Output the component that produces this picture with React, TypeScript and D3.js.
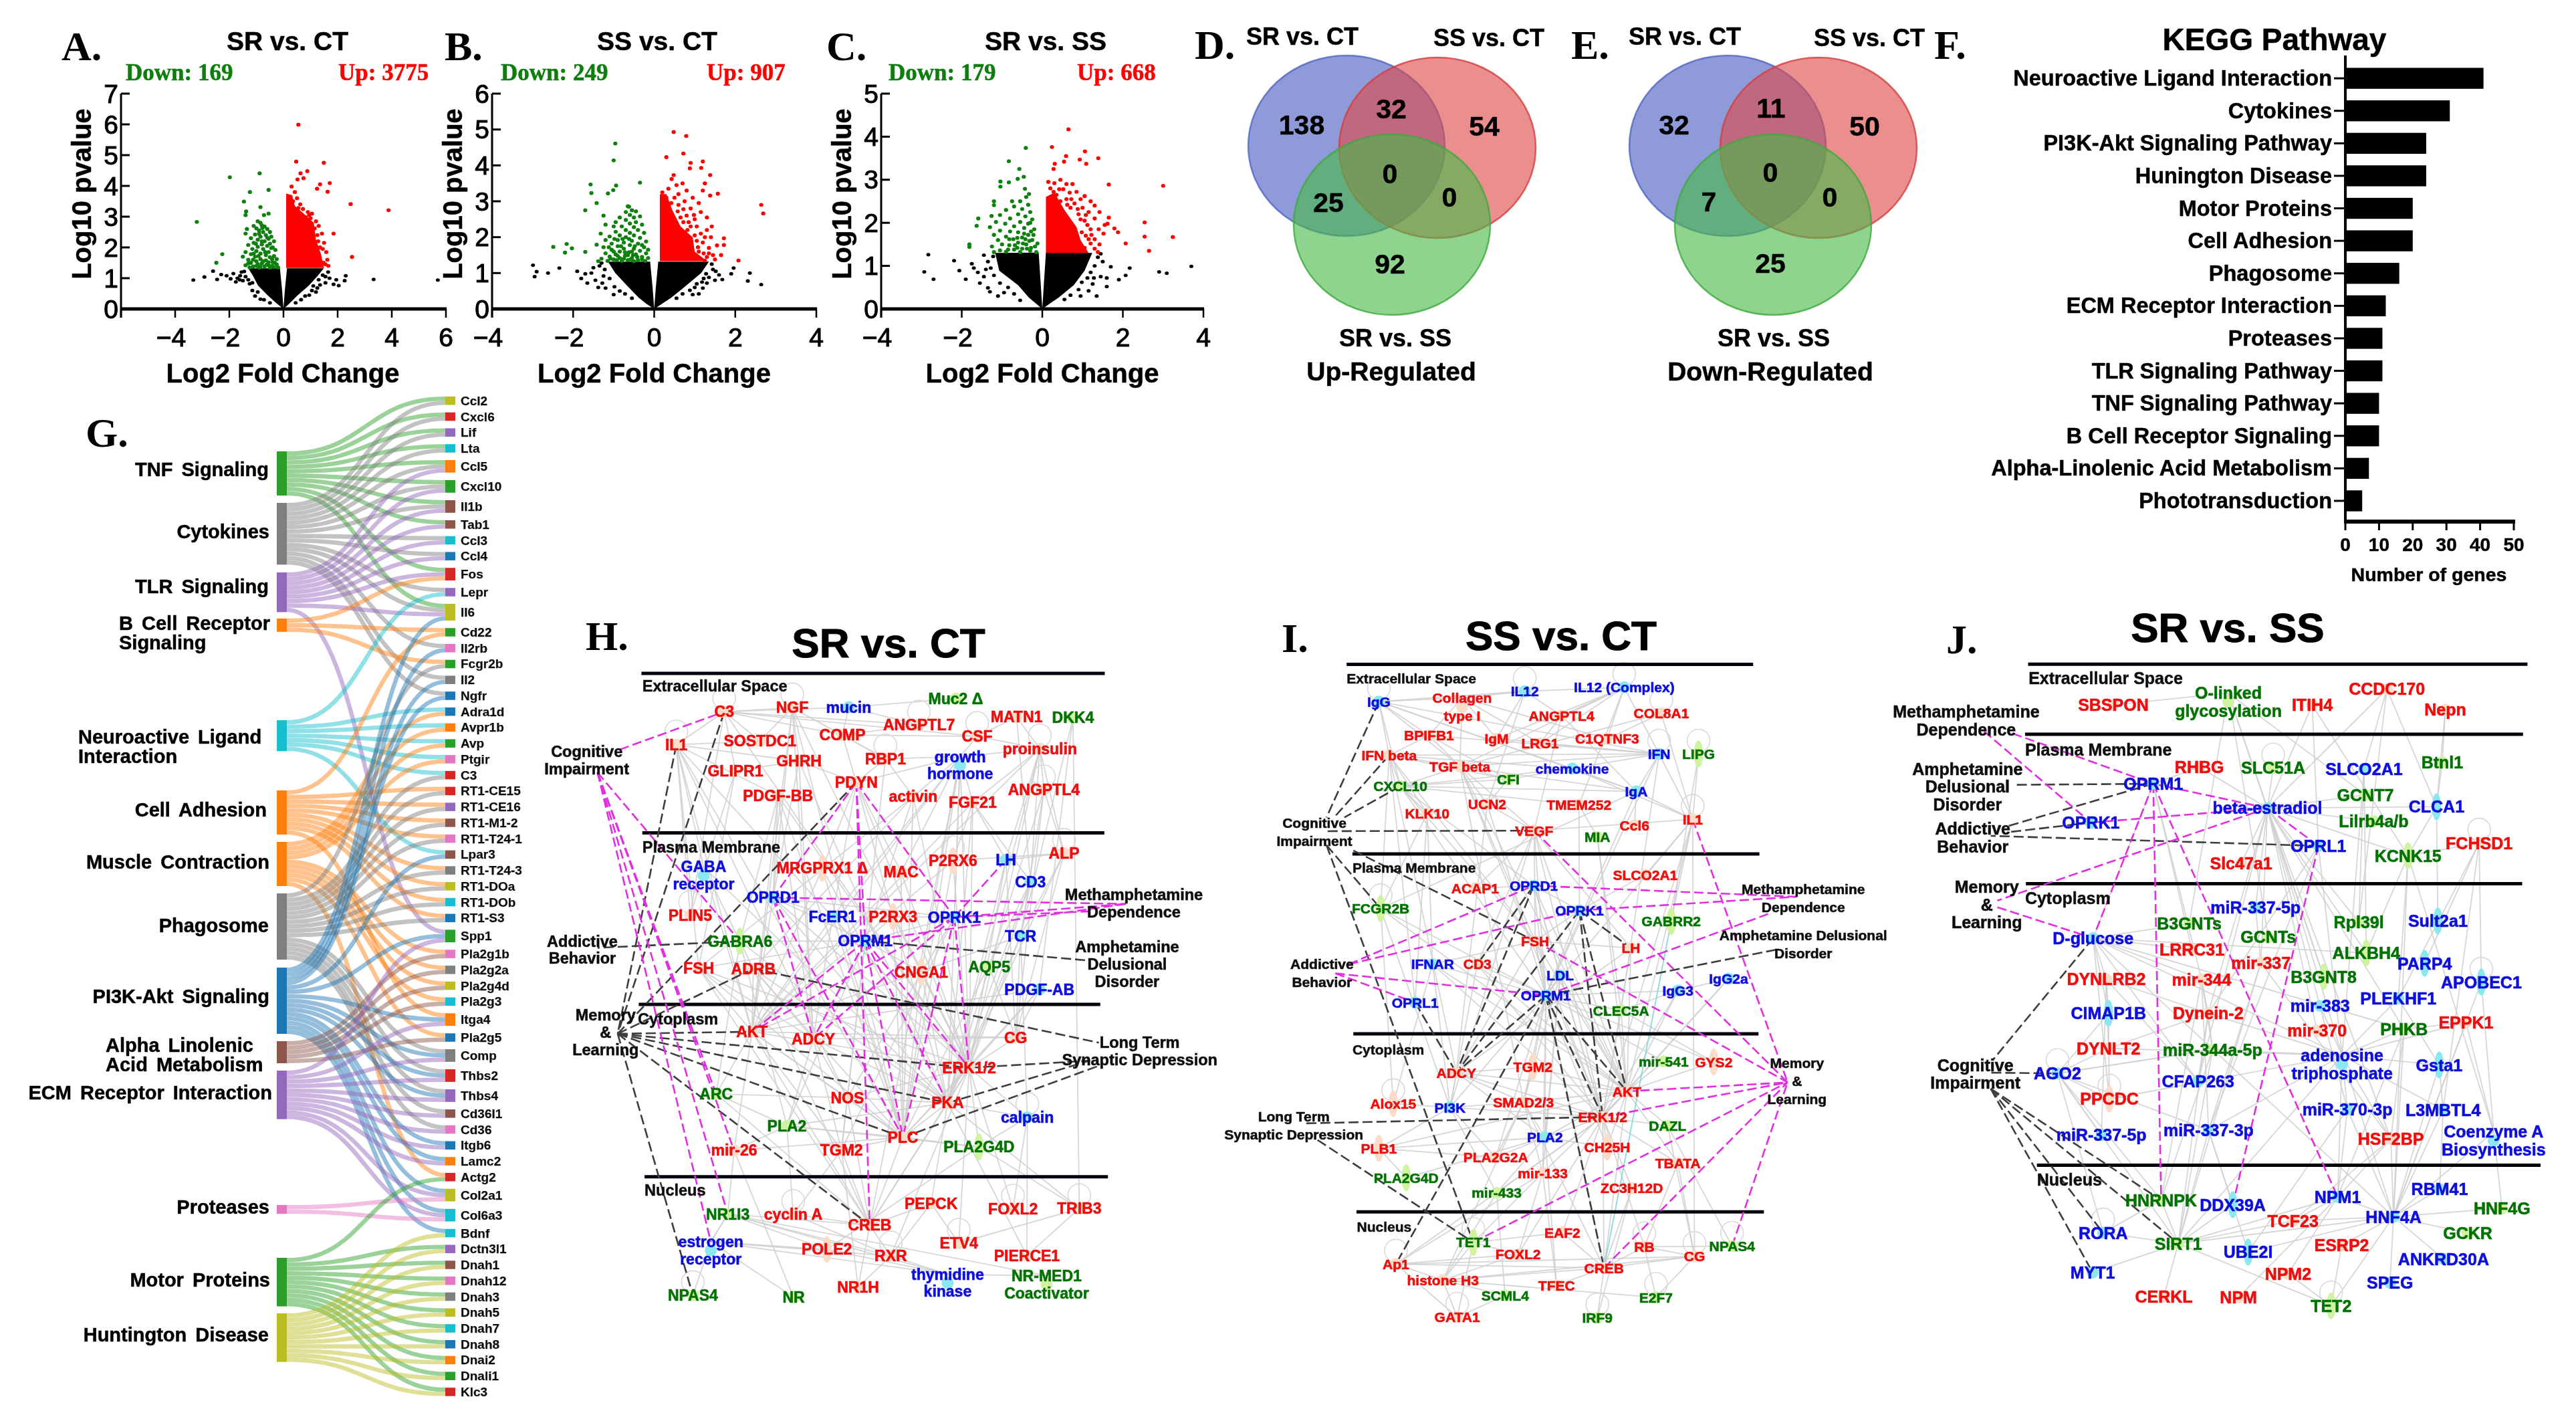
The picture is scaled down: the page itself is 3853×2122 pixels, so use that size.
import React from "react";
import * as d3 from "d3";

// ---------- Volcano data: [log2 fold change, -log10 p] ----------
const aDown: [number, number][] = [[-3.2,2.83],[-1.98,4.28],[-0.88,4.41],[-0.55,3.87],[-1.24,3.8],[-1.46,3.49],[-0.85,3.31],[-1.38,3.17],[-0.55,3.1],[-0.72,3.05],[-1.4,3.05],[-2.26,1.78],[-2.48,1.5],[-0.95,2.85],[-0.85,2.8],[-0.8,2.72],[-1.1,2.7],[-0.7,2.68],[-1.0,2.62],[-0.6,2.6],[-1.35,2.6],[-0.9,2.55],[-0.75,2.5],[-1.4,2.45],[-0.5,2.5],[-1.05,2.42],[-0.65,2.4],[-0.85,2.35],[-0.45,2.35],[-1.2,2.3],[-0.55,2.28],[-0.95,2.25],[-0.7,2.2],[-0.35,2.2],[-1.1,2.15],[-0.5,2.12],[-0.8,2.1],[-1.3,2.08],[-0.6,2.05],[-0.95,2.02],[-0.4,2.0],[-1.15,1.95],[-0.75,1.95],[-0.3,1.92],[-1.4,1.85],[-1.0,1.88],[-0.55,1.85],[-0.85,1.8],[-1.2,1.78],[-0.65,1.75],[-0.35,1.72],[-1.5,1.7],[-1.05,1.7],[-0.5,1.68],[-0.85,1.62],[-1.3,1.6],[-0.25,1.62],[-0.65,1.58],[-1.0,1.55],[-0.4,1.52],[-1.2,1.5],[-0.8,1.48],[-0.25,1.45],[-0.55,1.42],[-1.4,1.42],[-1.0,1.4],[-0.7,1.38],[-0.35,1.36],[-1.25,1.35],[-0.9,1.34],[-0.5,1.34],[-0.2,1.35],[-0.78,2.63],[-0.9,2.44],[-0.6,2.32],[-0.8,2.2],[-1.02,2.12],[-0.45,1.98],[-0.68,1.85],[-1.1,1.8],[-0.92,1.72],[-0.42,1.62],[-0.75,1.55],[-1.12,1.6],[-0.55,1.52],[-0.32,1.5],[-0.95,1.46],[-1.3,1.48],[-0.62,1.44],[-0.42,1.4],[-0.85,1.38],[-1.12,1.38]];
const aUp: [number, number][] = [[0.55,5.99],[0.47,4.79],[1.49,4.75],[0.88,4.48],[0.63,4.41],[0.52,4.21],[0.74,4.25],[1.71,4.09],[1.35,4.05],[1.24,3.91],[1.63,3.81],[2.48,3.41],[3.88,3.21],[1.85,2.45],[2.53,1.69],[0.3,3.98],[0.42,3.8],[0.5,3.6],[0.35,3.5],[0.62,3.4],[0.72,3.25],[0.9,3.15],[1.05,3.1],[1.0,2.95],[1.2,2.85],[1.3,2.7],[1.42,2.45],[1.25,2.4],[1.5,2.15],[1.35,2.0],[1.58,1.85],[1.62,1.6],[1.48,1.5],[1.66,1.4],[1.3,1.7],[0.55,3.28],[0.82,2.98],[1.15,2.62],[1.28,2.2],[1.45,1.95],[1.55,1.45],[0.95,3.05]];
const aUpCore: [number, number][] = [[0.1,1.33],[0.1,3.75],[0.32,3.7],[0.42,3.35],[0.75,3.1],[1.12,2.8],[1.2,2.25],[1.38,1.8],[1.5,1.33]];
const aCoreLeft: [number, number][] = [[0,0],[-0.28,0.2],[-0.58,0.44],[-0.94,0.76],[-1.13,1.08],[-1.3,1.32],[-0.13,1.32],[-0.05,0.6]];
const aCoreRight: [number, number][] = [[0,0],[0.25,0.2],[0.52,0.44],[0.94,0.76],[1.27,1.08],[1.49,1.32],[0.13,1.32],[0.05,0.6]];
const aNs: [number, number][] = [[-3.33,0.94],[-2.92,1.04],[-2.6,1.23],[-2.45,0.96],[-2.3,1.12],[-2.1,1.08],[-1.95,0.98],[-1.76,0.88],[-1.85,1.15],[-1.6,1.08],[-1.5,0.92],[-1.45,1.22],[-1.25,0.82],[-1.15,0.6],[-1.05,0.42],[-0.85,0.32],[1.1,0.75],[1.3,0.95],[1.45,1.1],[1.55,0.85],[1.7,1.0],[1.85,0.8],[1.2,0.55],[0.95,0.45],[2.3,1.08],[2.26,0.92],[2.04,0.76],[3.33,0.96],[5.7,0.94],[1.95,0.95],[-1.4,1.05],[-1.55,1.2],[-1.7,1.0],[-1.62,0.95],[-1.3,0.95],[-1.15,0.85],[-0.95,0.55],[-0.72,0.3],[-0.5,0.2],[0.45,0.2],[0.65,0.3],[0.8,0.42],[1.05,0.6],[1.35,0.78],[1.55,1.05],[1.65,1.2],[1.25,0.68]];

const bDown: [number, number][] = [[-0.96,4.61],[-1,4.14],[-0.35,3.52],[-1.57,3.47],[-1.55,3.23],[-0.94,3.44],[-1.01,3.31],[-1.14,3.22],[-1.42,2.95],[-1.7,2.75],[-0.65,2.86],[-2.49,1.73],[-2.16,1.81],[-2.2,1.57],[-2.03,1.69],[-1.7,1.59],[-1.42,1.79],[-1.38,1.33],[-1.25,2.6],[-1.2,2.35],[-1.32,2.1],[-0.62,2.85],[-0.55,2.75],[-0.7,2.7],[-0.45,2.72],[-0.6,2.62],[-0.85,2.55],[-0.5,2.55],[-0.35,2.58],[-0.7,2.48],[-0.95,2.42],[-0.45,2.42],[-0.6,2.38],[-0.3,2.35],[-1.0,2.3],[-0.8,2.3],[-0.5,2.28],[-0.7,2.2],[-0.4,2.2],[-0.95,2.15],[-0.6,2.12],[-0.25,2.12],[-0.85,2.05],[-0.5,2.05],[-1.1,2.02],[-0.7,2.0],[-0.35,1.98],[-1.2,1.92],[-0.9,1.92],[-0.55,1.9],[-0.2,1.88],[-0.75,1.85],[-1.05,1.82],[-0.4,1.82],[-0.6,1.78],[-0.9,1.75],[-1.25,1.72],[-0.25,1.72],[-0.75,1.68],[-0.5,1.68],[-1.05,1.65],[-0.35,1.62],[-0.85,1.6],[-0.62,1.58],[-1.2,1.55],[-0.2,1.55],[-0.95,1.52],[-0.45,1.52],[-0.72,1.48],[-1.1,1.46],[-0.3,1.45],[-0.55,1.42],[-0.85,1.42],[-0.15,1.42],[-1.3,1.4],[-1.0,1.38],[-0.65,1.36],[-0.4,1.36],[-0.22,1.34],[-0.8,1.34],[-1.15,1.34],[-0.5,1.33],[-0.78,1.95],[-0.48,1.75],[-0.98,1.95],[-0.62,1.95],[-0.3,1.78],[-0.15,1.65],[-0.82,1.75],[-1.12,1.72],[-0.55,1.6],[-0.72,1.58],[-0.42,1.45],[-0.9,1.48],[-1.0,1.6],[-0.3,1.38],[-0.65,1.5],[-0.52,1.5],[-1.08,1.4],[-0.75,1.4],[-0.58,1.38],[-0.92,1.36]];
const bUp: [number, number][] = [[0.48,4.93],[0.79,4.82],[0.72,4.33],[0.3,4.23],[0.9,4.07],[1.2,4.11],[1.16,3.93],[0.88,3.92],[1.38,3.73],[0.48,3.73],[0.43,3.62],[0.7,3.5],[1.25,3.5],[1.57,3.21],[1.38,3.16],[0.55,3.45],[0.35,3.35],[0.8,3.3],[1.2,3.3],[0.6,3.2],[0.95,3.1],[0.2,3.25],[0.3,3.1],[0.75,3.0],[1.1,2.95],[2.64,2.9],[2.69,2.66],[0.6,2.9],[0.9,2.8],[1.15,2.7],[1.3,2.55],[0.8,2.6],[1.0,2.5],[1.42,2.3],[0.65,2.55],[1.3,2.2],[0.9,2.3],[1.15,2.1],[1.4,2.0],[1.72,1.97],[1.72,1.78],[1.55,1.77],[1.0,2.05],[1.2,1.85],[1.35,1.7],[1.1,1.6],[1.45,1.5],[1.3,1.45],[1.25,1.35],[2.08,1.35],[1.65,1.5],[1.5,1.38],[0.58,2.72],[0.72,2.42],[0.82,2.2],[1.05,1.9],[1.08,1.72],[1.22,1.55],[1.35,1.55],[0.98,2.62],[0.72,2.78],[0.42,2.95],[0.5,3.1],[0.85,2.42],[1.25,2.0],[1.05,2.3]];
const bUpCore: [number, number][] = [[0.14,1.33],[0.14,3.2],[0.3,3.2],[0.45,2.75],[0.65,2.3],[0.95,2.0],[1.0,1.6],[1.3,1.33]];
const bCoreLeft: [number, number][] = [[0,0],[-0.2,0.15],[-0.38,0.31],[-0.68,0.66],[-0.96,1.0],[-1.14,1.32],[-0.1,1.32],[-0.04,0.6]];
const bCoreRight: [number, number][] = [[0,0],[0.2,0.15],[0.42,0.31],[0.8,0.66],[1.16,1.0],[1.35,1.32],[0.1,1.32],[0.04,0.6]];
const bNs: [number, number][] = [[-2.99,1.22],[-2.9,1.04],[-2.95,0.9],[-2.62,1.0],[-2.34,1.14],[-1.9,1.05],[-1.8,0.85],[-1.65,0.72],[-1.55,1.0],[-1.45,0.8],[-1.35,1.2],[-1.5,1.15],[-1.28,0.72],[-1.2,0.58],[-1.7,0.98],[-1.38,0.6],[-1.0,0.4],[2.36,1.0],[2.31,0.78],[2.64,0.68],[1.96,1.14],[1.9,0.98],[1.6,0.95],[1.68,0.82],[1.45,1.1],[1.5,0.8],[1.3,0.72],[1.2,0.58],[1.35,0.88],[1.1,0.42],[-1.22,1.1],[-1.1,0.85],[-1.25,0.92],[-0.98,0.62],[-0.85,0.5],[-0.72,0.42],[-0.55,0.3],[-1.3,1.28],[0.55,0.3],[0.7,0.42],[0.88,0.52],[1.0,0.6],[1.05,0.7],[1.22,0.85],[1.28,0.98],[1.42,1.25],[1.52,1.05],[1.18,0.75],[0.95,0.4]];

const cDown: [number, number][] = [[-0.41,3.74],[-0.83,3.43],[-0.57,3.25],[-0.46,3.07],[-1.04,2.96],[-0.83,2.94],[-0.61,3.02],[-1.04,2.84],[-0.43,2.79],[-0.33,2.67],[-1.2,2.5],[-1.2,2.41],[-1.59,2.1],[-1.63,1.93],[-1.26,2.16],[-1.81,1.44],[-1.81,1.5],[-0.4,2.6],[-0.75,2.5],[-0.55,2.5],[-0.35,2.42],[-0.7,2.38],[-0.5,2.32],[-0.9,2.3],[-0.3,2.25],[-0.6,2.2],[-1.05,2.18],[-0.42,2.15],[-0.8,2.1],[-0.25,2.08],[-1.15,2.02],[-0.55,2.02],[-0.35,1.98],[-0.92,1.98],[-0.7,1.92],[-1.3,1.9],[-0.45,1.88],[-0.2,1.85],[-1.05,1.82],[-0.8,1.8],[-0.6,1.78],[-1.2,1.72],[-0.35,1.72],[-0.9,1.68],[-0.5,1.66],[-0.72,1.62],[-1.1,1.6],[-0.25,1.6],[-1.0,1.5],[-0.6,1.54],[-0.4,1.5],[-0.82,1.48],[-1.25,1.45],[-0.18,1.45],[-0.5,1.4],[-0.7,1.38],[-1.05,1.36],[-0.3,1.35],[-0.9,1.33],[-1.2,1.32],[-0.55,1.32],[-0.15,1.32],[-0.3,2.0],[-0.28,1.8],[-0.45,1.75],[-0.62,1.65],[-0.32,1.58],[-0.42,1.62],[-0.82,1.62],[-0.68,1.48],[-0.28,1.42],[-0.48,1.52],[-0.62,1.42],[-0.22,1.72],[-0.38,1.4],[-0.85,1.38],[-0.12,1.52]];
const cUp: [number, number][] = [[0.65,4.17],[0.24,3.76],[1.06,3.66],[0.59,3.55],[1.39,3.5],[0.93,3.47],[0.54,3.42],[0.31,3.37],[1.09,3.37],[0.28,3.25],[3,2.86],[1.65,2.89],[2.54,2.01],[2.54,1.68],[3.24,1.67],[2.65,1.35],[2.07,1.52],[1.88,1.78],[1.79,1.87],[1.65,2.12],[1.62,1.98],[0.15,2.95],[0.3,2.92],[0.45,3.0],[0.6,2.9],[0.75,2.9],[0.2,2.8],[0.52,2.78],[0.68,2.7],[0.85,2.72],[0.35,2.65],[1.05,2.62],[0.95,2.55],[0.6,2.55],[0.45,2.5],[1.2,2.5],[0.8,2.45],[1.3,2.4],[1.0,2.35],[0.7,2.35],[1.15,2.25],[0.9,2.2],[1.42,2.25],[1.3,2.1],[1.05,2.05],[1.55,1.95],[1.4,1.85],[1.2,1.85],[1.52,1.75],[1.3,1.62],[1.15,1.62],[1.42,1.5],[1.3,1.4],[1.05,1.42],[1.38,1.32],[0.72,2.55],[0.88,2.32],[0.62,2.42],[1.08,2.18],[0.95,2.08],[1.12,1.95],[0.98,1.78],[1.08,1.7],[1.22,1.72],[1.2,1.52],[0.42,2.78],[0.28,2.72]];
const cUpCore: [number, number][] = [[0.09,1.3],[0.09,2.6],[0.3,2.7],[0.55,2.3],[0.85,1.9],[0.95,1.6],[1.15,1.3]];
const cCoreLeft: [number, number][] = [[0,0],[-0.15,0.12],[-0.33,0.26],[-0.6,0.55],[-1.07,0.89],[-1.17,1.3],[-0.09,1.31],[-0.04,0.6]];
const cCoreRight: [number, number][] = [[0,0],[0.18,0.12],[0.4,0.26],[0.78,0.55],[1.05,0.89],[1.24,1.3],[0.09,1.31],[0.04,0.6]];
const cNs: [number, number][] = [[-2.83,1.26],[-2.93,0.86],[-2.7,0.69],[-2.19,1.12],[-2.06,0.89],[-1.9,0.69],[-1.35,0.49],[-1.55,0.6],[-1.6,0.85],[-1.75,1.05],[-1.7,0.95],[-1.45,0.75],[-1.3,0.4],[-1.1,0.3],[1.6,0.52],[1.7,0.98],[2.17,0.95],[1.9,0.68],[2.9,0.86],[3.09,0.83],[3.7,0.99],[2.07,0.78],[1.5,1.1],[1.45,0.75],[1.25,0.58],[1.15,0.42],[1.6,0.72],[1.35,0.3],[-1.45,1.25],[-1.35,1.1],[-1.28,0.95],[-1.2,0.78],[-1.05,0.6],[-0.85,0.5],[-0.7,0.35],[-0.95,0.38],[-0.55,0.2],[-1.4,0.92],[-1.22,1.22],[0.55,0.22],[0.7,0.32],[0.9,0.45],[0.98,0.62],[1.12,0.72],[1.2,0.85],[1.3,1.0],[1.38,1.2],[1.28,0.72],[0.95,0.3],[1.45,1.28]];

// ---------- Venn data ----------
const vennSets = ["SR vs. CT", "SS vs. CT", "SR vs. SS"];
const vennUpCounts = [138, 32, 54, 0, 25, 0, 92];
const vennDownCounts = [32, 11, 50, 0, 7, 0, 25];

// ---------- KEGG bars ----------
const keggPathways = ["Neuroactive Ligand Interaction","Cytokines","PI3K-Akt Signaling Pathway","Hunington Disease","Motor Proteins","Cell Adhesion","Phagosome","ECM Receptor Interaction","Proteases","TLR Signaling Pathway","TNF Signaling Pathway","B Cell Receptor Signaling","Alpha-Linolenic Acid Metabolism","Phototransduction"];
const keggCounts = [41,31,24,24,20,20,16,12,11,11,10,10,7,5];
const keggTicks = [0,10,20,30,40,50];

// ---------- Sankey data ----------
const rtClass = ["RT1-CE15","RT1-CE16","RT1-M1-2","RT1-T24-1","RT1-T24-3","RT1-DOa","RT1-DOb","RT1-S3"];
const dyneins = ["Dctn3l1","Dnah1","Dnah12","Dnah3","Dnah5","Dnah7","Dnah8","Dnai2","Dnali1","Klc3"];
const pla2 = ["Pla2g1b","Pla2g2a","Pla2g4d","Pla2g3","Pla2g5"];
const sankeyPathways = ["TNF Signaling","Cytokines","TLR Signaling","B Cell Receptor|Signaling","Neuroactive Ligand|Interaction","Cell Adhesion","Muscle Contraction","Phagosome","PI3K-Akt Signaling","Alpha Linolenic|Acid Metabolism","ECM Receptor Interaction","Proteases","Motor Proteins","Huntington Disease"];
const sankeyGenesOf: string[][] = [
  ["Ccl2","Cxcl6","Lif","Lta","Ccl5","Cxcl10","Il1b","Tab1","Fos","Il6"],
  ["Ccl2","Cxcl6","Lif","Lta","Ccl5","Cxcl10","Il1b","Ccl3","Ccl4","Lepr","Il6","Il2rb","Il2","Ngfr"],
  ["Ccl5","Cxcl10","Il1b","Tab1","Ccl3","Ccl4","Fos","Il6","Spp1"],
  ["Fos","Cd22","Fcgr2b"],
  ["Lepr","Adra1d","Avpr1b","Avp","Ptgir","C3","Lpar3"],
  ["Cd22",...rtClass,"Itga4"],
  ["Adra1d","Avpr1b","Avp","Ptgir",...pla2,"Actg2"],
  ["Fcgr2b","C3",...rtClass,"Comp","Thbs2","Thbs4","Cd36l1","Cd36"],
  ["Il6","Il2rb","Il2","Ngfr","Lpar3","Spp1","Itga4","Comp","Thbs2","Thbs4","Itgb6","Lamc2","Col2a1","Col6a3","Bdnf"],
  pla2,
  ["Spp1","Itga4","Comp","Thbs2","Thbs4","Cd36l1","Cd36","Itgb6","Lamc2","Col2a1","Col6a3"],
  ["Col2a1","Col6a3"],
  ["Actg2",...dyneins],
  ["Bdnf",...dyneins],
];
const sankeyGenes = ["Ccl2","Cxcl6","Lif","Lta","Ccl5","Cxcl10","Il1b","Tab1","Ccl3","Ccl4","Fos","Lepr","Il6","Cd22","Il2rb","Fcgr2b","Il2","Ngfr","Adra1d","Avpr1b","Avp","Ptgir","C3","RT1-CE15","RT1-CE16","RT1-M1-2","RT1-T24-1","Lpar3","RT1-T24-3","RT1-DOa","RT1-DOb","RT1-S3","Spp1","Pla2g1b","Pla2g2a","Pla2g4d","Pla2g3","Itga4","Pla2g5","Comp","Thbs2","Thbs4","Cd36l1","Cd36","Itgb6","Lamc2","Actg2","Col2a1","Col6a3","Bdnf","Dctn3l1","Dnah1","Dnah12","Dnah3","Dnah5","Dnah7","Dnah8","Dnai2","Dnali1","Klc3"];

// ---------- Sankey styling / layout (category10 order) ----------
const C = { blue:"#1f77b4", orange:"#ff7f0e", green:"#2ca02c", red:"#d62728", purple:"#9467bd", brown:"#8c564b", pink:"#e377c2", gray:"#7f7f7f", olive:"#bcbd22", cyan:"#17becf" };
const sankeyPathwayColors = [C.green,C.gray,C.purple,C.orange,C.cyan,C.orange,C.orange,C.gray,C.blue,C.brown,C.purple,C.pink,C.green,C.olive];
const sankeyGeneColors = [C.olive,C.red,C.purple,C.cyan,C.orange,C.green,C.brown,C.brown,C.cyan,C.blue,C.red,C.purple,C.olive,C.green,C.pink,C.green,C.gray,C.blue,C.blue,C.orange,C.green,C.pink,C.red,C.red,C.purple,C.brown,C.pink,C.brown,C.gray,C.olive,C.cyan,C.blue,C.green,C.pink,C.gray,C.olive,C.cyan,C.orange,C.blue,C.gray,C.red,C.purple,C.brown,C.pink,C.blue,C.orange,C.red,C.olive,C.cyan,C.cyan,C.purple,C.brown,C.pink,C.gray,C.olive,C.cyan,C.blue,C.orange,C.green,C.red];
const sankeyLeftTops = [675,752,856,925,1077,1182,1259,1336,1447,1557,1601,1802,1881,1964];
const sankeyLabelLayout: [number, number, string][] = [[402,702,"end"],[403,795,"end"],[402,877,"end"],[178,932,"start"],[117,1102,"start"],[399,1211,"end"],[403,1289,"end"],[402,1384,"end"],[403,1490,"end"],[158,1563,"start"],[407,1634,"end"],[403,1805,"end"],[404,1914,"end"],[402,1996,"end"]];

// ---------- Network H ----------
const hRed = ["C3","NGF","MATN1","ANGPTL7","COMP","CSF","IL1","SOSTDC1","proinsulin","GHRH","RBP1","GLIPR1","PDYN","PDGF-BB","activin","FGF21","ANGPTL4","P2RX6","ALP","MRGPRX1 Δ","MAC","PLIN5","P2RX3","FSH","ADRB","CNGA1","AKT","ADCY","CG","ERK1/2","NOS","PKA","PLC","mir-26","TGM2","PEPCK","FOXL2","TRIB3","cyclin A","CREB","ETV4","POLE2","RXR","PIERCE1","NR1H"];
const hBlue = ["mucin","growth|hormone","LH","GABA|receptor","CD3","OPRD1","FcER1","OPRK1","TCR","OPRM1","PDGF-AB","calpain","estrogen|receptor","thymidine|kinase"];
const hGreen = ["Muc2 Δ","DKK4","GABRA6","AQP5","ARC","PLA2","PLA2G4D","NR1I3","NR-MED1|Coactivator","NPAS4","NR"];
const hTerms = ["Cognitive|Impairment","Addictive|Behavior","Memory|&|Learning","Methamphetamine|Dependence","Amphetamine|Delusional|Disorder","Long Term|Synaptic Depression"];
const hCompartments = ["Extracellular Space","Plasma Membrane","Cytoplasm","Nucleus"];
const hGrey: Record<string,string[]> = {
  "C3":["NGF","mucin","COMP","ANGPTL7","CSF","IL1","SOSTDC1","GLIPR1","PLIN5","ERK1/2"],
  "IL1":["SOSTDC1","GHRH","PDGF-BB","FSH","AKT","NOS","ERK1/2","PLC","GABA","PLIN5"],
  "NGF":["GHRH","RBP1","AKT","ERK1/2","PLC","ADCY","SOSTDC1","OPRD1"],
  "mucin":["Muc2 Δ","ANGPTL7","COMP"],
  "COMP":["ANGPTL7","CSF","RBP1","PDYN"],
  "growth":["PDYN","RBP1","FGF21","proinsulin","activin","AKT","ERK1/2","PKA","PLC","CREB","OPRK1","FcER1","CNGA1","CSF","MAC"],
  "proinsulin":["ANGPTL4","FGF21","LH","CD3","ERK1/2","AKT","ALP","CSF","MATN1","PKA"],
  "PDGF-BB":["AKT","ERK1/2","PLC","OPRD1","GABRA6","ADCY"],
  "GHRH":["PDYN","ADCY","OPRD1","GLIPR1","PKA"],
  "GLIPR1":["PLIN5","FSH"],
  "RBP1":["activin","OPRM1","PDYN"],
  "PDYN":["P2RX3","MAC","MRGPRX1 Δ","FcER1","ERK1/2"],
  "activin":["PLC","ERK1/2","FSH","ADRB","OPRM1"],
  "FGF21":["ERK1/2","AKT","PKA","P2RX6","CD3","LH"],
  "ANGPTL4":["ALP","TCR","AQP5","CG"],
  "ALP":["P2RX6","TCR","CG","PKA","LH"],
  "DKK4":["TCR","PDGF-AB","TRIB3"],
  "MATN1":["CSF","CD3"],
  "CD3":["ERK1/2","PKA","PLC","TCR"],
  "TCR":["ERK1/2","PKA","AKT","CG","calpain"],
  "PDGF-AB":["ERK1/2","AKT","PLC","CG"],
  "OPRD1":["OPRK1","OPRM1","FcER1","AKT","PKA","ERK1/2"],
  "OPRK1":["OPRM1","P2RX3","NOS","TGM2"],
  "OPRM1":["NOS","TGM2","PLA2","GABRA6","FSH","P2RX3","CNGA1"],
  "FcER1":["AKT","ERK1/2","PLC","ADCY"],
  "MRGPRX1 Δ":["PLC","AKT","PKA"],
  "P2RX6":["ERK1/2","PLC","AKT"],
  "P2RX3":["ERK1/2","PKA","PLC"],
  "MAC":["ERK1/2","PLC"],
  "CNGA1":["PKA","ERK1/2","PLC"],
  "GABRA6":["PKA","ARC","PLA2","ADRB"],
  "GABA":["AKT","PKA","GABRA6"],
  "FSH":["ERK1/2","AKT","ADCY","CREB","PLC"],
  "ADRB":["AKT","ADCY","PKA","PLC","CREB"],
  "AQP5":["PKA","CG"],
  "LH":["ERK1/2","PKA","CG"],
  "AKT":["CG","ERK1/2","PLC","ARC","NOS","CREB","TGM2","mir-26"],
  "ADCY":["PKA","NOS","PLA2","TGM2","CG"],
  "ERK1/2":["CG","PKA","PLC","CREB","NOS","PLA2G4D","RXR","FOXL2","calpain","ETV4"],
  "PKA":["PLC","CREB","NOS","TRIB3","PIERCE1","PEPCK","calpain","PLA2"],
  "PLC":["PLA2G4D","TGM2","NOS","PLA2","CREB","mir-26"],
  "ARC":["NOS","PLA2","CREB"],
  "NOS":["TGM2","CREB","PLC"],
  "PLA2":["PLA2G4D","mir-26","cyclin A"],
  "mir-26":["NR1I3","NR"],
  "TGM2":["CREB","cyclin A","NR1H"],
  "calpain":["PLA2G4D","PIERCE1","FOXL2"],
  "PLA2G4D":["TRIB3","POLE2"],
  "CREB":["PEPCK","NR1H","RXR","cyclin A"],
  "NR1I3":["RXR","NR-MED1","POLE2","thymidine","CREB","estrogen"],
  "estrogen":["POLE2","thymidine","RXR","NR","NR1I3"],
  "thymidine":["RXR","POLE2","NR-MED1"],
  "TRIB3":["ETV4","PIERCE1"],
  "RXR":["NR1H","PEPCK","cyclin A"],
  "NPAS4":["estrogen"],
  "ETV4":["PEPCK"],
};
const hMagenta = ["@CI2>C3","@CI>estrogen","@CI>NR1I3","@CI>ARC","@CI>mir-26","@CI>GABRA6","PDYN>OPRD1","PDYN>OPRK1","PDYN>CREB","PDYN>OPRM1","OPRD1>ADCY","OPRD1>PLC","OPRD1>@MD","OPRK1>@MD","@MD2>OPRK1","OPRM1>@MD","LH>OPRK1","OPRK1>ERK1/2","OPRK1>AKT","OPRK1>ADCY","OPRK1>PLC","OPRM1>AKT","OPRM1>ADCY","OPRM1>PLC","OPRM1>PKA","OPRM1>ERK1/2"];
const hBlack = ["IL1>@ML","C3>@ML","PDYN>@ML","ADRB>@ML","GABRA6>@AB","OPRM1>@AD","ADRB>@LT","ERK1/2>@LT2","PKA>@LT2","PLC>@LT3","@ML>AKT","@ML>ERK1/2","@ML>PKA","@ML>PLC","@ML>CREB","@ML>NPAS4"];
const hLoops = ["C3","NGF","IL1","RBP1","ANGPTL7","CSF","proinsulin","ANGPTL4","PLIN5","P2RX6","ALP","ETV4","FOXL2","TRIB3","cyclin A","RXR","NPAS4","calpain"];
const hTall = ["GABRA6","P2RX6","CNGA1","P2RX3","MRGPRX1 Δ","POLE2","PLA2G4D"];
const hLayoutTop: Record<string,[number,number]> = {"C3":[423,365],"NGF":[575,350],"mucin":[701,348],"Muc2 Δ":[940,315],"MATN1":[1076,385],"DKK4":[1202,388],"ANGPTL7":[858,415],"COMP":[687,453],"CSF":[988,458],"IL1":[316,490],"SOSTDC1":[503,476],"proinsulin":[1128,505],"GHRH":[590,552],"RBP1":[783,543],"growth":[950,535],"GLIPR1":[448,588],"PDYN":[718,632],"PDGF-BB":[543,683],"activin":[845,686],"FGF21":[978,708],"ANGPTL4":[1137,660],"P2RX6":[934,928],"LH":[1052,925],"ALP":[1182,900],"GABA":[377,952],"MRGPRX1 Δ":[642,957],"MAC":[818,972],"CD3":[1107,1008],"OPRD1":[532,1068],"PLIN5":[347,1135],"FcER1":[665,1140],"P2RX3":[800,1140],"OPRK1":[937,1142],"TCR":[1085,1213],"GABRA6":[458,1233],"OPRM1":[738,1232],"FSH":[366,1335],"ADRB":[488,1337],"CNGA1":[863,1350],"AQP5":[1015,1330],"PDGF-AB":[1127,1415],"Cognitive":[116,516],"Addictive":[106,1233],"Methamphetamine":[1338,1057],"Amphetamine":[1323,1255],"@CI":[140,595],"@CI2":[190,508],"@AB":[140,1258],"@MD":[1320,1092],"@MD2":[1240,1120],"@AD":[1230,1305]};
const hLayoutBottom: Record<string,[number,number]> = {"AKT":[485,112],"ADCY":[622,140],"CG":[1074,135],"ERK1/2":[970,253],"ARC":[405,355],"NOS":[698,370],"PKA":[922,390],"calpain":[1100,446],"PLA2":[563,480],"PLC":[822,525],"PLA2G4D":[992,562],"mir-26":[445,576],"TGM2":[685,574],"PEPCK":[885,783],"FOXL2":[1068,805],"TRIB3":[1216,803],"NR1I3":[431,825],"cyclin A":[577,826],"CREB":[748,868],"ETV4":[947,938],"POLE2":[652,963],"RXR":[795,988],"PIERCE1":[1099,987],"estrogen":[393,933],"NR1H":[722,1110],"thymidine":[922,1060],"NR-MED1":[1143,1066],"NPAS4":[353,1143],"NR":[578,1150],"Memory":[158,48],"Long Term":[1351,155],"@ML":[185,120],"@LT":[1260,155],"@LT2":[1240,225],"@LT3":[1260,245]};
const hRules: [number,number,number,number][] = [[238,1273,220,0],[240,1272,823,0],[232,1263,1472,0],[245,1280,679,1]];
const hCompartmentAt: [number,number,number][] = [[240,268,0],[240,878,0],[230,62,1],[245,733,1]];

// ---------- Network I ----------
const iRed = ["Collagen|type I","ANGPTL4","COL8A1","BPIFB1","IgM","LRG1","C1QTNF3","IFN beta","TGF beta","UCN2","TMEM252","KLK10","IL1","Ccl6","VEGF","SLCO2A1","ACAP1","FSH","LH","CD3","ADCY","TGM2","GYS2","AKT","Alox15","SMAD2/3","ERK1/2","CH25H","PLB1","PLA2G2A","TBATA","mir-133","ZC3H12D","EAF2","RB","FOXL2","CG","Ap1","CREB","histone H3","TFEC","GATA1"];
const iBlue = ["IgG","IL12","IL12 (Complex)","IFN","chemokine","IgA","OPRD1","OPRK1","IFNAR","LDL","IgG2a","IgG3","OPRM1","OPRL1","PI3K","PLA2"];
const iGreen = ["LIPG","CFI","CXCL10","MIA","FCGR2B","GABRR2","CLEC5A","mir-541","DAZL","PLA2G4D","mir-433","TET1","NPAS4","SCML4","E2F7","IRF9"];
const iTerms = ["Cognitive|Impairment","Methamphetamine|Dependence","Amphetamine Delusional|Disorder","Addictive|Behavior","Long Term|Synaptic Depression","Memory|&|Learning"];
const iGrey: Record<string,string[]> = {
  "IgG":["Collagen","IL12","BPIFB1","IFN beta","CXCL10","TGF beta","IFN","IgA","chemokine"],
  "IL12":["IL12 (Complex)","Collagen","ANGPTL4","IgM","UCN2"],
  "IL12 (Complex)":["C1QTNF3","IFN","LRG1","IgM","TMEM252","ANGPTL4","TGF beta"],
  "Collagen":["BPIFB1","IgM","TGF beta","LRG1","C1QTNF3"],
  "ANGPTL4":["VEGF","LRG1","IgA"],
  "COL8A1":["IL1","C1QTNF3","TGF beta"],
  "BPIFB1":["IFN beta","TGF beta","CFI","IFN"],
  "IFN beta":["IFN","TGF beta","CXCL10","CFI","KLK10","chemokine","FSH","OPRL1","FCGR2B","ADCY"],
  "IFN":["TGF beta","IgA","IL1","chemokine","LRG1","IgM","OPRM1","CLEC5A"],
  "LIPG":["IL1","GABRR2"],
  "TGF beta":["CFI","IgA","UCN2","CXCL10","VEGF","FSH","AKT","ERK1/2","SMAD2/3"],
  "chemokine":["IgA","IL1","CFI","CXCL10"],
  "CFI":["CXCL10","UCN2"],
  "CXCL10":["IgA","KLK10","TMEM252","OPRD1","OPRM1","FSH"],
  "IgA":["IL1","Ccl6","FCGR2B","OPRM1"],
  "IL1":["VEGF","SLCO2A1","AKT","ERK1/2","OPRM1","GABRR2","CG"],
  "UCN2":["OPRM1","ADCY","VEGF"],
  "VEGF":["OPRM1","ERK1/2","AKT","FSH","LH","PI3K","ACAP1","CD3"],
  "TMEM252":["OPRK1","MIA"],
  "MIA":["AKT","CLEC5A"],
  "KLK10":["FCGR2B","IFNAR","OPRL1"],
  "OPRD1":["OPRK1","OPRM1","ACAP1","AKT","ERK1/2","LDL"],
  "OPRK1":["OPRM1","FSH","SLCO2A1"],
  "OPRM1":["LDL","FSH","CD3","IFNAR","IgG3","CLEC5A","TGM2","SMAD2/3","PI3K","PLA2","mir-133","PLA2G2A","mir-541","CH25H","GYS2"],
  "FSH":["ERK1/2","AKT","ADCY","LH","CREB","IFNAR"],
  "LH":["ERK1/2","AKT","ADCY"],
  "CD3":["ERK1/2","AKT","PI3K"],
  "IFNAR":["PI3K","AKT","ERK1/2","Alox15"],
  "LDL":["ERK1/2","AKT","PLA2","mir-133","SMAD2/3"],
  "IgG2a":["IgG3","AKT","ERK1/2"],
  "IgG3":["AKT","ERK1/2","CLEC5A"],
  "CLEC5A":["AKT","ERK1/2","GYS2"],
  "FCGR2B":["OPRM1","PI3K","AKT","Alox15"],
  "ADCY":["TGM2","ERK1/2","AKT","SMAD2/3","PI3K","PLA2"],
  "AKT":["ERK1/2","GYS2","mir-541","SMAD2/3","PLA2","TBATA","CH25H","DAZL","CREB","TGM2","mir-133","PLB1"],
  "ERK1/2":["SMAD2/3","PLA2","CH25H","CREB","ZC3H12D","TBATA","FOXL2","mir-433","EAF2","PI3K","DAZL","Ap1","RB"],
  "SMAD2/3":["TGM2","PI3K","PLA2","PLA2G2A","histone H3","CREB","mir-133"],
  "PI3K":["PLA2G2A","PLB1","Alox15","mir-433"],
  "PLA2":["PLA2G2A","PLA2G4D","PLB1","CH25H","mir-433","TFEC"],
  "PLB1":["PLA2G2A","PLA2G4D"],
  "mir-133":["TET1","Ap1","FOXL2","TFEC"],
  "mir-433":["histone H3","SCML4"],
  "ZC3H12D":["CREB","IRF9"],
  "TBATA":["CG","RB"],
  "DAZL":["NPAS4","CG"],
  "Ap1":["CREB","histone H3","GATA1","CG","FOXL2"],
  "CREB":["RB","CG","IRF9","histone H3","TFEC","EAF2"],
  "histone H3":["TET1","GATA1","FOXL2","E2F7","CG"],
  "TET1":["GATA1","FOXL2","EAF2"],
  "RB":["CG","E2F7","NPAS4"],
  "SCML4":["histone H3","GATA1"],
  "E2F7":["CG"],
};
const iMagenta = ["OPRD1>@MD","OPRK1>@MD","OPRM1>@MD2","@AB>OPRD1","@AB>OPRK1","@AB2>OPRM1","@AB2>OPRL1","VEGF>@ML","FSH>@ML","IL1>@ML","AKT>@ML","ERK1/2>@ML","TET1>@ML","CREB>@ML","NPAS4>@ML"];
const iBlack = ["IgG>@CIa","IFN beta>@CIb","CXCL10>@CIc","VEGF>@CId","@CIe>FCGR2B","@CIf>FSH","@CIe>TET1","OPRM1>@AD","OPRD1>ADCY","OPRD1>CD3","OPRK1>ADCY","OPRK1>LH","OPRK1>AKT","OPRK1>ERK1/2","OPRM1>ADCY","OPRM1>Ap1","OPRM1>ERK1/2","OPRM1>AKT","OPRM1>CREB","OPRL1>ADCY","@LT>ERK1/2","@LT2>TET1"];
const iTeal = ["GABRR2>CREB"];
const iLoops = ["IgG","IL12","IL12 (Complex)","LIPG","IL1","COL8A1","IFN","Alox15","FCGR2B","Ap1","TET1","NPAS4","E2F7","IRF9","GATA1","CG","RB"];
const iTall = ["FCGR2B","GABRR2","PLB1","LIPG","Alox15","TET1","PLA2G4D","CH25H","TGM2","GYS2"];
const iLayoutTop: Record<string,[number,number]> = {"IgG":[362,352],"Collagen":[548,338],"IL12":[688,313],"IL12 (Complex)":[910,298],"ANGPTL4":[770,405],"COL8A1":[993,397],"BPIFB1":[474,480],"IgM":[625,492],"LRG1":[722,510],"C1QTNF3":[872,493],"IFN beta":[385,555],"IFN":[988,550],"LIPG":[1076,550],"TGF beta":[543,597],"chemokine":[794,605],"CFI":[651,646],"CXCL10":[410,672],"IgA":[937,692],"UCN2":[604,740],"TMEM252":[809,742],"KLK10":[470,775],"IL1":[1063,797],"Ccl6":[933,820],"VEGF":[709,840],"MIA":[850,864],"SLCO2A1":[957,1007],"ACAP1":[577,1058],"OPRD1":[708,1048],"FCGR2B":[366,1135],"OPRK1":[810,1142],"GABRR2":[1015,1183],"FSH":[711,1258],"LH":[925,1284],"IFNAR":[482,1345],"CD3":[582,1345],"LDL":[767,1387],"IgG2a":[1143,1400],"IgG3":[1030,1445],"OPRM1":[735,1463],"OPRL1":[443,1490],"CLEC5A":[903,1520],"Cognitive":[218,810],"Methamphetamine":[1310,1060],"Amphetamine Delusional":[1310,1236],"Addictive":[235,1345],"@CIa":[245,790],"@CIb":[262,790],"@CIc":[285,790],"@CId":[245,842],"@CIe":[245,895],"@CIf":[305,915],"@MD":[1295,1090],"@MD2":[1240,1150],"@AD":[1250,1290],"@AB":[295,1345],"@AB2":[265,1380]};
const iLayoutBottom: Record<string,[number,number]> = {"ADCY":[535,272],"TGM2":[706,250],"mir-541":[998,228],"GYS2":[1110,230],"AKT":[916,345],"Alox15":[394,393],"SMAD2/3":[685,387],"PI3K":[521,408],"ERK1/2":[862,445],"DAZL":[1007,480],"PLA2":[733,525],"CH25H":[872,563],"PLB1":[362,568],"PLA2G2A":[623,603],"TBATA":[1030,625],"mir-133":[728,664],"PLA2G4D":[423,683],"ZC3H12D":[927,723],"mir-433":[625,742],"EAF2":[772,897],"TET1":[573,935],"RB":[955,952],"NPAS4":[1151,950],"FOXL2":[673,982],"CG":[1067,990],"Ap1":[400,1020],"CREB":[865,1035],"histone H3":[505,1083],"TFEC":[759,1103],"SCML4":[644,1143],"E2F7":[981,1150],"GATA1":[537,1227],"IRF9":[850,1230],"Long Term":[172,443],"Memory":[1296,235],"@ML":[1275,310],"@LT":[200,470],"@LT2":[225,535]};
const iRules: [number,number,number,number][] = [[290,1198,211,0],[303,1212,928,0],[305,1210,120,1],[312,1222,816,1]];
const iCompartmentAt: [number,number,number][] = [[290,265,0],[303,980,0],[303,182,1],[313,873,1]];

// ---------- Network J ----------
const jRed = ["SBSPON","ITIH4","CCDC170","Nepn","RHBG","FCHSD1","Slc47a1","LRRC31","mir-337","DYNLRB2","mir-344","Dynein-2","EPPK1","mir-370","DYNLT2","PPCDC","HSF2BP","TCF23","ESRP2","NPM2","CERKL","NPM"];
const jBlue = ["SLCO2A1","OPRM1","beta-estradiol","CLCA1","OPRK1","OPRL1","miR-337-5p","Sult2a1","D-glucose","PARP4","APOBEC1","PLEKHF1","mir-383","CIMAP1B","adenosine|triphosphate","Gsta1","AGO2","CFAP263","miR-370-3p","L3MBTL4","miR-337-5p#2","miR-337-3p","Coenzyme A|Biosynthesis","RBM41","DDX39A","NPM1","HNF4A","RORA","UBE2I","ANKRD30A","MYT1","SPEG"];
const jGreen = ["O-linked|glycosylation","SLC51A","Btnl1","GCNT7","Lilrb4a/b","KCNK15","B3GNTs","Rpl39l","GCNTs","ALKBH4","B3GNT8","PHKB","miR-344a-5p","HNRNPK","HNF4G","GCKR","SIRT1","TET2"];
const jTerms = ["Methamphetamine|Dependence","Amphetamine|Delusional|Disorder","Addictive|Behavior","Memory|&|Learning","Cognitive|Impairment"];
const jGrey: Record<string,string[]> = {
  "SBSPON":["O-linked"],
  "O-linked":["beta-estradiol","B3GNTs","GCNTs","B3GNT8","GCNT7"],
  "ITIH4":["beta-estradiol","OPRL1","KCNK15"],
  "CCDC170":["beta-estradiol","SLCO2A1","CLCA1","Rpl39l"],
  "Nepn":["Btnl1","CLCA1"],
  "beta-estradiol":["SLC51A","GCNT7","CLCA1","Lilrb4a/b","KCNK15","Slc47a1","RHBG","miR-337-5p","Rpl39l","mir-337","adenosine","ALKBH4","B3GNT8","mir-370","HSF2BP","PHKB","Dynein-2","CFAP263","miR-370-3p"],
  "OPRM1":["D-glucose","RHBG","LRRC31","mir-344"],
  "SLCO2A1":["adenosine","Rpl39l","ALKBH4"],
  "CLCA1":["KCNK15","Btnl1","Sult2a1"],
  "FCHSD1":["KCNK15","PLEKHF1","APOBEC1","PARP4","L3MBTL4"],
  "KCNK15":["HNF4A","ALKBH4","PLEKHF1","Coenzyme A"],
  "OPRL1":["Dynein-2","adenosine","miR-337-3p"],
  "D-glucose":["LRRC31","DYNLRB2","CIMAP1B","B3GNTs","ALKBH4","mir-344","PPCDC","adenosine","HNF4A","PHKB","CFAP263"],
  "adenosine":["Gsta1","miR-344a-5p","mir-383","HNF4A","miR-370-3p","PHKB","HSF2BP","Dynein-2","NPM1","PPCDC","DYNLT2","EPPK1","PLEKHF1","miR-337-3p","L3MBTL4","SIRT1"],
  "DYNLRB2":["Dynein-2","CIMAP1B","DYNLT2","CFAP263","miR-337-5p#2"],
  "Dynein-2":["DYNLT2","miR-344a-5p","mir-344","CFAP263","SIRT1"],
  "mir-344":["miR-344a-5p","HNRNPK","miR-337-3p"],
  "mir-337":["miR-337-3p","miR-337-5p","SIRT1","HSF2BP"],
  "Gsta1":["HNF4A","L3MBTL4","PLEKHF1"],
  "EPPK1":["HNF4A","PHKB","Coenzyme A"],
  "APOBEC1":["HNF4A","Coenzyme A"],
  "PHKB":["HNF4A","HSF2BP","NPM1"],
  "AGO2":["miR-337-5p#2","SIRT1","DYNLT2","miR-344a-5p","PPCDC","miR-337-3p","HNRNPK","RORA"],
  "CIMAP1B":["AGO2","PPCDC"],
  "miR-344a-5p":["HNRNPK","AGO2","SIRT1"],
  "miR-370-3p":["HNF4A","NPM1","UBE2I"],
  "miR-337-3p":["SIRT1","DDX39A","UBE2I"],
  "HSF2BP":["HNF4A","NPM1","TCF23"],
  "L3MBTL4":["HNF4A","RBM41"],
  "Coenzyme A":["HNF4G","HNF4A"],
  "HNF4A":["RBM41","HNF4G","GCKR","NPM1","TCF23","ANKRD30A","SPEG","SIRT1","ESRP2","TET2","UBE2I"],
  "SIRT1":["RORA","MYT1","TCF23","CERKL","TET2","NPM1","HNRNPK","DDX39A"],
  "NPM1":["NPM2","NPM","TCF23"],
  "TET2":["NPM2","ESRP2"],
  "RORA":["HNRNPK"],
};
const jMagenta = ["@MD>OPRK1","@MD2>OPRM1","OPRM1>beta-estradiol","OPRK1>beta-estradiol","beta-estradiol>OPRL1","beta-estradiol>@ML","@ML2>D-glucose","OPRM1>D-glucose","OPRM1>HNRNPK","OPRM1>NPM1","OPRL1>DDX39A"];
const jBlack = ["OPRM1>@AD","OPRM1>@ABa","OPRK1>@ABb","OPRL1>@ABc","D-glucose>@CI","AGO2>@CI2","@CI3>HNRNPK","@CI3>SIRT1","@CI3>RORA","@CI3>MYT1"];
const jLoops = ["AGO2","PPCDC","APOBEC1","FCHSD1","SLC51A","TET2","RORA"];
const jTall = ["KCNK15","CLCA1","ALKBH4","B3GNT8","PARP4","Sult2a1","PPCDC","APOBEC1","TET2","DDX39A","UBE2I","Gsta1","CIMAP1B"];
const jLayoutTop: Record<string,[number,number]> = {"SBSPON":[519,390],"O-linked":[781,345],"ITIH4":[972,390],"CCDC170":[1142,330],"Nepn":[1275,408],"RHBG":[715,625],"SLC51A":[883,628],"SLCO2A1":[1090,632],"Btnl1":[1268,607],"OPRM1":[610,688],"GCNT7":[1093,730],"beta-estradiol":[870,780],"CLCA1":[1255,775],"OPRK1":[468,835],"Lilrb4a/b":[1112,830],"OPRL1":[986,923],"KCNK15":[1190,960],"FCHSD1":[1352,912],"Slc47a1":[810,990],"miR-337-5p":[843,1157],"B3GNTs":[692,1216],"Rpl39l":[1078,1212],"Sult2a1":[1258,1207],"GCNTs":[872,1268],"D-glucose":[473,1272],"LRRC31":[698,1315],"ALKBH4":[1095,1328],"mir-337":[855,1365],"PARP4":[1228,1367],"DYNLRB2":[503,1427],"mir-344":[720,1428],"B3GNT8":[998,1418],"APOBEC1":[1357,1438],"PLEKHF1":[1168,1500],"mir-383":[990,1528],"Methamphetamine":[184,415],"Amphetamine":[187,632],"Addictive":[199,858],"Memory":[231,1078],"@MD":[225,490],"@MD2":[290,498],"@AD":[295,692],"@ABa":[275,850],"@ABb":[285,870],"@ABc":[240,885],"@ML":[255,1130],"@ML2":[255,1155]};
const jLayoutBottom: Record<string,[number,number]> = {"CIMAP1B":[508,40],"Dynein-2":[735,40],"EPPK1":[1322,75],"mir-370":[983,107],"PHKB":[1181,102],"DYNLT2":[508,177],"miR-344a-5p":[745,182],"adenosine":[1040,205],"Gsta1":[1261,242],"AGO2":[392,275],"CFAP263":[712,305],"PPCDC":[510,375],"miR-370-3p":[1052,415],"L3MBTL4":[1270,417],"miR-337-5p#2":[492,516],"miR-337-3p":[736,497],"HSF2BP":[1151,531],"Coenzyme A":[1385,503],"RBM41":[1262,727],"HNRNPK":[628,770],"DDX39A":[791,788],"NPM1":[1030,758],"HNF4G":[1404,802],"HNF4A":[1157,835],"TCF23":[928,851],"GCKR":[1326,899],"RORA":[496,898],"SIRT1":[667,940],"ESRP2":[1039,947],"UBE2I":[826,973],"ANKRD30A":[1271,1000],"NPM2":[917,1058],"MYT1":[472,1053],"SPEG":[1149,1093],"CERKL":[634,1147],"NPM":[804,1150],"TET2":[1015,1183],"Cognitive":[205,243],"@CI":[245,222],"@CI2":[240,272],"@CI3":[240,335]};
const jRules: [number,number,number,number][] = [[325,1462,236,0],[318,1452,501,0],[320,1450,1066,0],[345,1492,634,1]];
const jCompartmentAt: [number,number,number][] = [[326,288,0],[318,558,0],[318,1120,0],[345,690,1]];

// ---------- Shared ----------
const SANS = "'Liberation Sans', Arial, sans-serif";
const SERIF = "'Liberation Serif', 'Times New Roman', serif";
const RED = "#f00a0a", GREEN = "#067206", NODE_BLUE = "#0c0cde";

const Txt = ({ x, y, s, size, fill = "#000", anchor = "middle", weight = 700, family = SANS, rotate, ws, sw = 0.5 }: any) => (
  <text x={x} y={y} fontFamily={family} fontWeight={weight} fontSize={size} fill={fill} textAnchor={anchor}
    stroke={fill} strokeWidth={sw} dominantBaseline="central" wordSpacing={ws} transform={rotate ? `rotate(${rotate} ${x} ${y})` : undefined}>{s}</text>
);
const Letter = ({ x, y, s }: any) => (
  <text x={x} y={y} fontFamily={SERIF} fontWeight={700} fontSize={62} fill="#000">{s}</text>
);

function Volcano({ title, titleX, letter, letterX, down, up, downX, upX, dn, upPts, upCore, coreL, coreR, ns, xDom, xRange, yMax, xTicks, tickLabels }: any) {
  const x = d3.scaleLinear().domain(xDom).range(xRange);
  const y = d3.scaleLinear().domain([0, yMax]).range([462, 140]);
  const poly = d3.line<[number, number]>().x(d => x(d[0])).y(d => y(d[1])).curve(d3.curveLinearClosed);
  const left = x(xDom[0]);
  return (
    <g>
      <Letter x={letterX} y={90} s={letter} />
      <Txt x={titleX} y={61} s={title} size={39} />
      <Txt x={downX} y={108} s={down} size={35} fill="#0a7d0a" family={SERIF} anchor="start" />
      <Txt x={upX} y={108} s={up} size={35} fill="#f00" family={SERIF} anchor="start" />
      <path d={poly(coreL) || ""} fill="#000" />
      <path d={poly(coreR) || ""} fill="#000" />
      <path d={poly(upCore) || ""} fill="#f00" />
      {ns.map((d: number[], i: number) => <ellipse key={i} cx={x(d[0])} cy={y(d[1])} rx={3} ry={2.6} fill="#000" />)}
      {dn.map((d: number[], i: number) => <ellipse key={i} cx={x(d[0])} cy={y(d[1])} rx={3.1} ry={2.9} fill="#0a800a" />)}
      {upPts.map((d: number[], i: number) => <ellipse key={i} cx={x(d[0])} cy={y(d[1])} rx={3.1} ry={2.9} fill="#f00" />)}
      <line x1={left} x2={left} y1={y(yMax)} y2={475} stroke="#000" strokeWidth={3} />
      <line x1={left - 1} x2={xRange[1] + 1} y1={462} y2={462} stroke="#000" strokeWidth={5} />
      {d3.range(0, yMax + 1).map(t => (
        <g key={t}>
          <line x1={left} x2={left + 13} y1={y(t)} y2={y(t)} stroke="#000" strokeWidth={3} />
          <Txt x={left - 4} y={y(t)} s={String(t)} size={39} anchor="end" weight={400} sw={1} />
        </g>
      ))}
      {xTicks.map((t: number) => <line key={t} x1={x(t)} x2={x(t)} y1={462} y2={475} stroke="#000" strokeWidth={2.5} />)}
      {tickLabels.map((t: number) => <Txt key={t} x={x(t) - (t < 0 ? 6 : 0)} y={504} s={t < 0 ? `\u2212${-t}` : String(t)} size={39} weight={400} sw={1} />)}
      <Txt x={(xRange[0] + xRange[1]) / 2 + (xDom[0] === -6 ? -1 : 0)} y={558} s="Log2 Fold Change" size={40} />
      <Txt x={left - 59} y={290} s="Log10 pvalue" size={40} rotate={-90} />
    </g>
  );
}

function Venn({ labels, counts, second, bottom }: any) {
  const dx = second ? 570 : 0;
  const cx = d3.scaleLinear().domain([0, 1]).range([2014 + dx, 2150 + dx]);
  const circles = [{ x: cx(0), y: 218, f: "rgba(66,88,190,0.6)", s: "rgba(66,88,190,.7)" }, { x: cx(1), y: 221, f: "rgba(222,72,72,0.62)", s: "rgba(215,60,60,.8)" }, { x: cx(0.5), y: 336, f: "rgba(72,185,72,0.62)", s: "rgba(60,170,60,.8)" }];
  const numberAt = second ? [[2504, 187], [2649, 162], [2789, 189], [2648, 258], [2556, 302], [2737, 295], [2648, 394]] : [[1947, 187], [2081, 163], [2220, 189], [2079, 260], [1987, 303], [2168, 295], [2079, 395]];
  return (
    <g>
      {circles.map((c, i) => <ellipse key={i} cx={c.x} cy={c.y} rx={147} ry={135} fill={c.f} stroke={c.s} strokeWidth={2.5} />)}
      {counts.map((n: number, i: number) => <Txt key={i} x={numberAt[i][0]} y={numberAt[i][1]} s={String(n)} size={41} />)}
      <Txt x={second ? 2520 : 1948} y={54} s={labels[0]} size={36} />
      <Txt x={second ? 2796 : 2227} y={56} s={labels[1]} size={36} />
      <Txt x={second ? 2653 : 2087} y={505} s={labels[2]} size={36} />
      <Txt x={second ? 2648 : 2081} y={555} s={bottom} size={39} />
    </g>
  );
}

function Kegg() {
  const x = d3.scaleLinear().domain([0, 50]).range([3508, 3760]);
  const y = d3.scaleBand().domain(keggPathways).range([92.7, 773.4]).paddingInner(0.355).paddingOuter(0.18);
  return (
    <g>
      <Letter x={2893} y={88} s="F." />
      <Txt x={3402} y={59} s="KEGG Pathway" size={46} />
      {keggPathways.map((p, i) => {
        const cy = (y(p) as number) + y.bandwidth() / 2;
        return (
          <g key={p}>
            <rect x={x(0)} y={y(p)} width={x(keggCounts[i]) - x(0)} height={y.bandwidth()} fill="#000" />
            <line x1={3491} x2={3508} y1={cy} y2={cy} stroke="#000" strokeWidth={3} />
            <Txt x={3488} y={cy} s={p} size={32.5} anchor="end" />
          </g>
        );
      })}
      <line x1={3508} x2={3508} y1={83} y2={782} stroke="#000" strokeWidth={4} />
      <line x1={3506} x2={3762} y1={780} y2={780} stroke="#000" strokeWidth={6} />
      {keggTicks.map(t => (
        <g key={t}>
          <line x1={x(t)} x2={x(t)} y1={780} y2={793} stroke="#000" strokeWidth={3} />
          <Txt x={x(t)} y={814} s={String(t)} size={28} />
        </g>
      ))}
      <Txt x={3633} y={859} s="Number of genes" size={28.5} />
    </g>
  );
}

function Sankey() {
  const leftUnit = 6.6, rightUnit = 6.27, gap = 11.2, top = 593;
  const gCount = sankeyGenes.map(g => sankeyGenesOf.filter(l => l.includes(g)).length);
  let yy = top;
  const gTop = sankeyGenes.map((_, i) => { const t = yy; yy += gCount[i] * rightUnit + gap; return t; });
  const used = sankeyGenes.map(() => 0);
  const link = d3.linkHorizontal<any, [number, number]>().source((d: any) => d.s).target((d: any) => d.t);
  const links = sankeyGenesOf.flatMap((genes, pi) => genes.map((g, k) => {
    const gi = sankeyGenes.indexOf(g);
    const ty = gTop[gi] + (used[gi]++ + 0.5) * rightUnit;
    return { k: `${pi}-${g}`, c: sankeyPathwayColors[pi], d: link({ s: [429, sankeyLeftTops[pi] + (k + 0.5) * leftUnit], t: [666, ty] }) };
  }));
  return (
    <g>
      <Letter x={128} y={668} s="G." />
      {links.map(l => <path key={l.k} d={l.d || ""} fill="none" stroke={l.c} strokeOpacity={0.48} strokeWidth={6.4} />)}
      {sankeyPathways.map((p, i) => {
        const lines = p.split("|");
        const [lx, ly, a] = sankeyLabelLayout[i];
        return (
          <g key={p}>
            <rect x={414} y={sankeyLeftTops[i]} width={15} height={sankeyGenesOf[i].length * leftUnit} fill={sankeyPathwayColors[i]} />
            {lines.map((t, j) => <Txt key={t} x={lx} y={ly + j * 28.5} s={t} size={29} anchor={a} ws={5} />)}
          </g>
        );
      })}
      {sankeyGenes.map((g, i) => (
        <g key={g}>
          <rect x={666} y={gTop[i]} width={15} height={gCount[i] * rightUnit} fill={sankeyGeneColors[i]} />
          <Txt x={689} y={gTop[i] + gCount[i] * rightUnit / 2} s={g} size={19} anchor="start" fill="#111" sw={0.25} />
        </g>
      ))}
    </g>
  );
}

function Network({ title, titleAt, titleSize = 62, letter, letterAt, red, blue, green, terms, compartments, compartmentAt, compartmentSize, grey, magenta, black, teal = [], loops, tall, layoutTop, layoutBottom, rules, xRange, yTop, yBottom, labelSize, termSize, step }: any) {
  const sx = d3.scaleLinear().domain([0, 1568]).range(xRange);
  const syT = d3.scaleLinear().domain([0, 1568]).range(yTop);
  const syB = d3.scaleLinear().domain([0, 1568]).range(yBottom);
  const pt = (k: string): [number, number] | null => {
    if (layoutTop[k]) return [sx(layoutTop[k][0]), syT(layoutTop[k][1])];
    if (layoutBottom[k]) return [sx(layoutBottom[k][0]), syB(layoutBottom[k][1])];
    return null;
  };
  const seg = (s: string) => { const [a, b] = s.split(">"); return { a: pt(a), b: pt(b), k: s }; };
  const greyPairs: { a: any; b: any; k: string }[] = Object.entries(grey as Record<string, string[]>).flatMap(([a, l]) => l.map(b => ({ a: pt(a), b: pt(b), k: a + b })));
  const line = (e: any, stroke: string, w: number, dash?: string, op = 1) => e.a && e.b ?
    <line key={e.k + stroke} x1={e.a[0]} y1={e.a[1]} x2={e.b[0]} y2={e.b[1]} stroke={stroke} strokeWidth={w} strokeDasharray={dash} strokeOpacity={op} /> : null;
  const groups: [string[], string, string][] = [[red, RED, "#fbdcc9"], [blue, NODE_BLUE, "#8ae8f1"], [green, GREEN, "#cff3a0"]];
  return (
    <g>
      <Letter x={letterAt[0]} y={letterAt[1]} s={letter} />
      <Txt x={titleAt[0]} y={titleAt[1]} s={title} size={titleSize} sw={1} />
      {greyPairs.map(e => line(e, "#cfcfcf", 1.8, undefined, 0.85))}
      {loops.map((k: string) => {
        const p = pt(k);
        return p ? <circle key={k} cx={p[0]} cy={p[1] - 20} r={17} fill="none" stroke="#dadada" strokeWidth={1.6} /> : null;
      })}
      {teal.map((s: string) => line(seg(s), "#8fd8d8", 1.8))}
      {rules.map((r: number[], i: number) => {
        const yr = r[3] ? syB(r[2]) : syT(r[2]);
        return <line key={i} x1={sx(r[0])} x2={sx(r[1])} y1={yr} y2={yr} stroke="#050510" strokeWidth={5} />;
      })}
      {black.map((s: string) => line(seg(s), "#3d3d3d", 2.6, "15 6"))}
      {magenta.map((s: string) => line(seg(s), "#e02ee0", 2.6, "14 6"))}
      {groups.map(([names, , blob]) => names.map((n: string) => {
        const key = n.split("|")[0];
        const p = pt(key);
        if (!p) return null;
        const isTall = tall.includes(key);
        return <ellipse key={"b" + n} cx={p[0]} cy={p[1] + (n.includes("|") ? step / 2 : 0)} rx={isTall ? 7 : 9} ry={isTall ? 20 : 9} fill={blob} />;
      }))}
      {compartments.map((c: string, i: number) => {
        const a = compartmentAt[i];
        return <Txt key={c} x={sx(a[0])} y={a[2] ? syB(a[1]) : syT(a[1])} s={c} size={compartmentSize} anchor="start" fill="#111" />;
      })}
      {groups.map(([names, color]) => names.map((n: string) => {
        const key = n.split("|")[0];
        const p = pt(key);
        if (!p) return null;
        return n.replace("#2", "").split("|").map((t, j) => (
          <Txt key={n + j} x={p[0]} y={p[1] + j * step} s={t} size={labelSize} fill={color} sw={0.6} />
        ));
      }))}
      {terms.map((n: string) => {
        const p = pt(n.split("|")[0]);
        return p ? n.split("|").map((t, j) => <Txt key={n + j} x={p[0]} y={p[1] + j * step} s={t} size={termSize} fill="#111" sw={0.6} />) : null;
      })}
    </g>
  );
}

export default function App() {
  return (
    <svg width={3853} height={2122} viewBox="0 0 3853 2122" style={{ position: "absolute", left: 0, top: 0, background: "#fff" }}>
      <defs>
        <filter id="soft" x="0" y="0" width="100%" height="100%" filterUnits="objectBoundingBox">
          <feGaussianBlur stdDeviation="0.5" />
        </filter>
      </defs>
      <rect width={3853} height={2122} fill="#fff" />
      <g filter="url(#soft)">
        <rect width={3853} height={2122} fill="#fff" />
        <Volcano title="SR vs. CT" titleX={430} letter="A." letterX={92} down="Down: 169" up="Up: 3775" downX={188} upX={506} dn={aDown} upPts={aUp} upCore={aUpCore} coreL={aCoreLeft} coreR={aCoreRight} ns={aNs} xDom={[-6, 6]} xRange={[181, 667]} yMax={7} xTicks={[-6, -4, -2, 0, 2, 4, 6]} tickLabels={[-4, -2, 0, 2, 4, 6]} />
        <Volcano title="SS vs. CT" titleX={983} letter="B." letterX={665} down="Down: 249" up="Up: 907" downX={749} upX={1057} dn={bDown} upPts={bUp} upCore={bUpCore} coreL={bCoreLeft} coreR={bCoreRight} ns={bNs} xDom={[-4, 4]} xRange={[736, 1221]} yMax={6} xTicks={[-4, -2, 0, 2, 4]} tickLabels={[-4, -2, 0, 2, 4]} />
        <Volcano title="SR vs. SS" titleX={1564} letter="C." letterX={1236} down="Down: 179" up="Up: 668" downX={1329} upX={1611} dn={cDown} upPts={cUp} upCore={cUpCore} coreL={cCoreLeft} coreR={cCoreRight} ns={cNs} xDom={[-4, 4]} xRange={[1318, 1800]} yMax={5} xTicks={[-4, -2, 0, 2, 4]} tickLabels={[-4, -2, 0, 2, 4]} />
        <Letter x={1787} y={88} s="D." />
        <Venn labels={vennSets} counts={vennUpCounts} second={false} bottom="Up-Regulated" />
        <Letter x={2350} y={88} s="E." />
        <Venn labels={vennSets} counts={vennDownCounts} second={true} bottom="Down-Regulated" />
        <Kegg />
        <Sankey />
        <Network title="SR vs. CT" titleAt={[1329, 961]} letter="H." letterAt={[876, 972]} red={hRed} blue={hBlue} green={hGreen} terms={hTerms} compartments={hCompartments} compartmentAt={hCompartmentAt} compartmentSize={23.5} grey={hGrey} magenta={hMagenta} black={hBlack} loops={hLoops} tall={hTall} layoutTop={hLayoutTop} layoutBottom={hLayoutBottom} rules={hRules} xRange={[800, 1850]} yTop={[920, 1540]} yBottom={[1500, 2100]} labelSize={23} termSize={23.5} step={25.7} />
        <Network title="SS vs. CT" titleAt={[2335, 950]} letter="I." letterAt={[1917, 975]} red={iRed} blue={iBlue} green={iGreen} terms={iTerms} compartments={hCompartments} compartmentAt={iCompartmentAt} compartmentSize={21} grey={iGrey} magenta={iMagenta} black={iBlack} teal={iTeal} loops={iLoops} tall={iTall} layoutTop={iLayoutTop} layoutBottom={iLayoutBottom} rules={iRules} xRange={[1820, 2870]} yTop={[910, 1530]} yBottom={[1500, 2100]} labelSize={21} termSize={21} step={26.9} />
        <Network title="SR vs. SS" titleAt={[3332, 938]} letter="J." letterAt={[2911, 977]} red={jRed} blue={jBlue} green={jGreen} terms={jTerms} compartments={hCompartments} compartmentAt={jCompartmentAt} compartmentSize={25} grey={jGrey} magenta={jMagenta} black={jBlack} loops={jLoops} tall={jTall} layoutTop={jLayoutTop} layoutBottom={jLayoutBottom} rules={jRules} xRange={[2820, 3850]} yTop={[900, 1520]} yBottom={[1500, 2100]} labelSize={25} termSize={25} step={26.5} />
      </g>
    </svg>
  );
}
